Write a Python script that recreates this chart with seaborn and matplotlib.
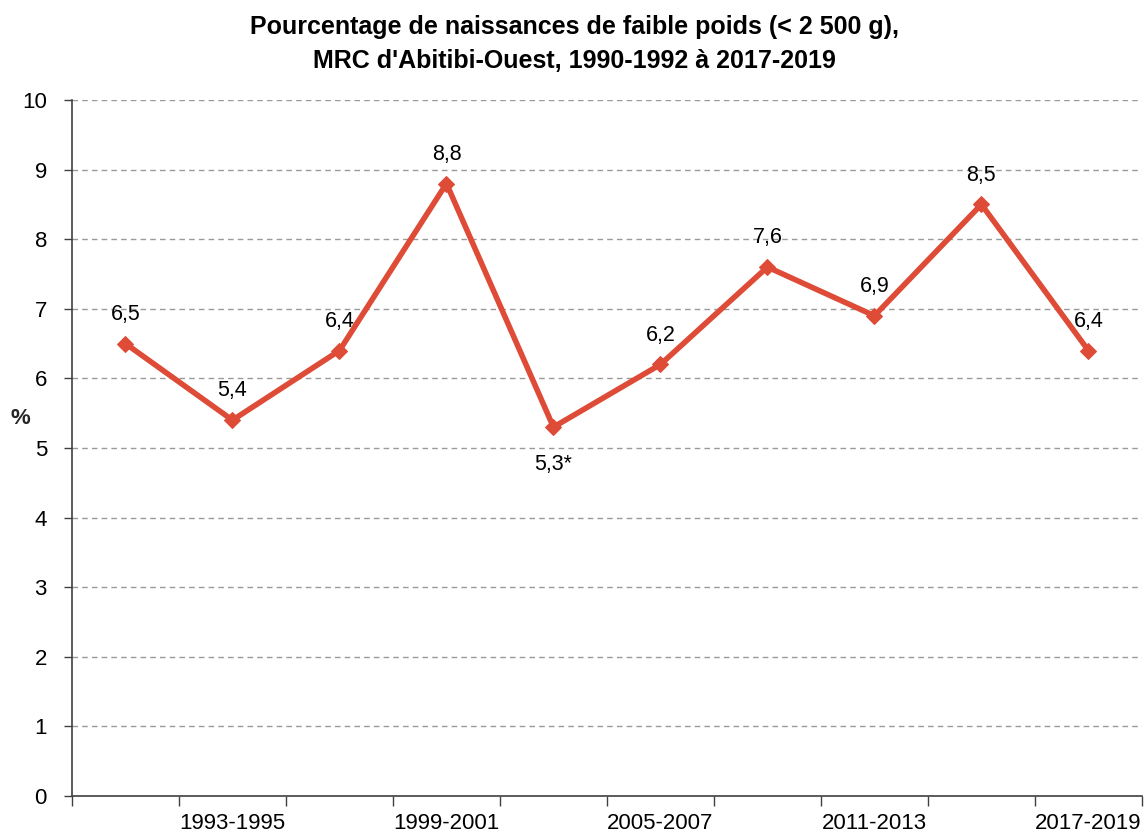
import matplotlib
matplotlib.use("Agg")
from matplotlib import pyplot as plt
import pandas as pd
import seaborn as sns

periodes = ['1990-1992', '1993-1995', '1996-1998', '1999-2001', '2002-2004',
            '2005-2007', '2008-2010', '2011-2013', '2014-2016', '2017-2019']
valeurs = [6.5, 5.4, 6.4, 8.8, 5.3, 6.2, 7.6, 6.9, 8.5, 6.4]
etiquettes = ['6,5', '5,4', '6,4', '8,8', '5,3*', '6,2', '7,6', '6,9', '8,5', '6,4']

df = pd.DataFrame({'periode': periodes, 'pct': valeurs})

sns.set_style('white')
plt.rcParams['font.family'] = ['Liberation Sans', 'DejaVu Sans']
plt.rcParams['text.color'] = 'black'
plt.rcParams['xtick.color'] = '#404040'
plt.rcParams['ytick.color'] = '#404040'
plt.rcParams['xtick.labelcolor'] = 'black'
plt.rcParams['ytick.labelcolor'] = 'black'

couleur = '#DE4B37'
fig = plt.figure(figsize=(11.48, 8.39), dpi=100)
ax = fig.add_axes([0.0627, 0.0513, 0.932, 0.8295])

sns.lineplot(data=df, x='periode', y='pct', ax=ax, color=couleur, linewidth=4,
             marker='D', markersize=8, markeredgecolor=couleur, sort=False)

# etiquettes de valeurs
for i, (v, t) in enumerate(zip(valeurs, etiquettes)):
    if t.endswith('*'):
        ax.annotate(t, (i, v), xytext=(0, -27), textcoords='offset points',
                    ha='center', va='center', fontsize=15.5)
    else:
        ax.annotate(t, (i, v), xytext=(0, 21), textcoords='offset points',
                    ha='center', va='center', fontsize=15.5)

ax.set_ylim(0, 10)
ax.set_xlim(-0.5, len(periodes) - 0.5)
ax.set_yticks(range(0, 11))
ax.tick_params(axis='y', labelsize=16, length=6, width=1, direction='out', left=True, pad=12)

# ticks entre les categories, etiquettes une sur deux
ax.set_xticks([i - 0.5 for i in range(len(periodes) + 1)])
ax.set_xticklabels([])
ax.set_xticks(list(range(1, len(periodes), 2)), minor=True)
ax.set_xticklabels(periodes[1::2], minor=True)
ax.tick_params(axis='x', which='major', length=7, width=1, direction='out', bottom=True)
ax.tick_params(axis='x', which='minor', length=0, labelsize=16, pad=12)

ax.yaxis.grid(True, linestyle=(0, (4, 3)), color='#9a9a9a', linewidth=1)
ax.set_axisbelow(True)
for s in ['top', 'right']:
    ax.spines[s].set_visible(False)
for s in ['left', 'bottom']:
    ax.spines[s].set_color('#404040')
    ax.spines[s].set_linewidth(1.2)

ax.set_xlabel('')
ax.set_ylabel('%', rotation=0, fontsize=16, fontweight='bold', va='center', ha='center')
ax.yaxis.set_label_coords(-0.048, 0.543)

fig.suptitle("Pourcentage de naissances de faible poids (< 2 500 g),\nMRC d'Abitibi-Ouest, 1990-1992 à 2017-2019",
             fontsize=18, fontweight='bold', y=0.982, linespacing=1.5)

fig.savefig('out.png', dpi=100)
